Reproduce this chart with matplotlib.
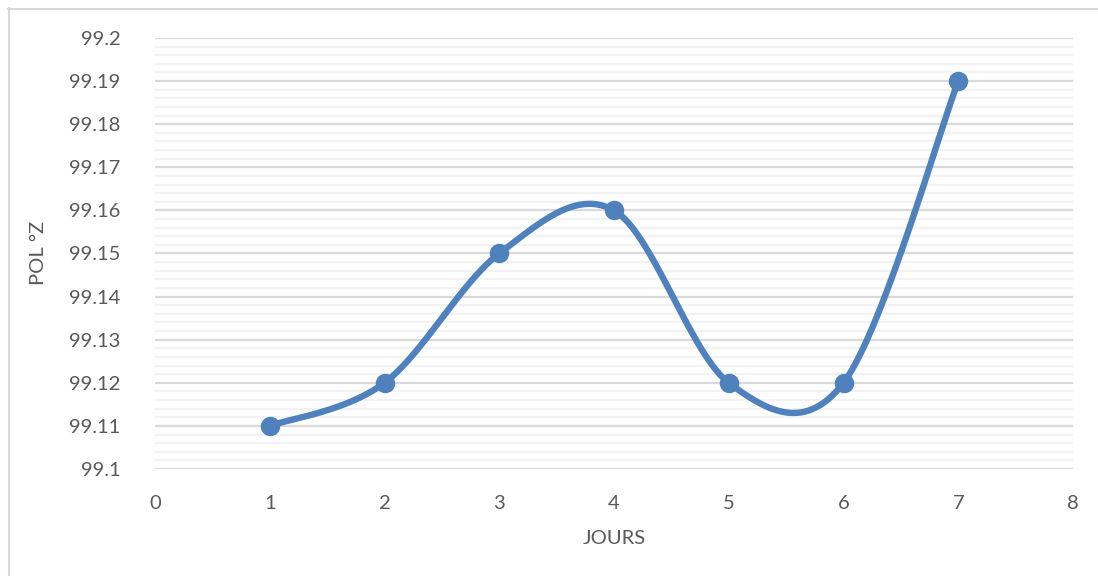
import numpy as np
import matplotlib
matplotlib.use("Agg")
import matplotlib.pyplot as plt
from matplotlib.lines import Line2D
from matplotlib.ticker import MultipleLocator

jours = [1, 2, 3, 4, 5, 6, 7]
pol_z = [99.11, 99.12, 99.15, 99.16, 99.12, 99.12, 99.19]

x_ticks = [0, 1, 2, 3, 4, 5, 6, 7, 8]
y_ticks = [99.1, 99.11, 99.12, 99.13, 99.14, 99.15, 99.16, 99.17, 99.18, 99.19, 99.2]
y_labels = ["99.1", "99.11", "99.12", "99.13", "99.14", "99.15", "99.16",
            "99.17", "99.18", "99.19", "99.2"]

LINE_COLOR = "#4F81BD"
TEXT_COLOR = "#595959"
FS = 14.5

plt.rcParams["font.family"] = ["Lato", "DejaVu Sans"]


def smooth_curve(xs, ys, n=60):
    """Cardinal (Catmull-Rom) spline through the points, drawn as cubic Beziers."""
    px = np.asarray(xs, float)
    py = np.asarray(ys, float)
    ex = np.concatenate([[px[0]], px, [px[-1]]])
    ey = np.concatenate([[py[0]], py, [py[-1]]])
    out_x, out_y = [], []
    t = np.linspace(0, 1, n)
    for i in range(len(px) - 1):
        p0 = np.array([ex[i + 1], ey[i + 1]])
        p3 = np.array([ex[i + 2], ey[i + 2]])
        c1 = p0 + (np.array([ex[i + 2], ey[i + 2]]) - np.array([ex[i], ey[i]])) / 6
        c2 = p3 - (np.array([ex[i + 3], ey[i + 3]]) - np.array([ex[i + 1], ey[i + 1]])) / 6
        b = ((1 - t) ** 3)[:, None] * p0 + (3 * (1 - t) ** 2 * t)[:, None] * c1 \
            + (3 * (1 - t) * t ** 2)[:, None] * c2 + (t ** 3)[:, None] * p3
        out_x.extend(b[:, 0])
        out_y.extend(b[:, 1])
    return np.array(out_x), np.array(out_y)


fig = plt.figure(figsize=(10.98, 5.76), dpi=100)
ax = fig.add_axes([155 / 1098, 1 - 469 / 576, (1073 - 155) / 1098, (469 - 38) / 576])

sx, sy = smooth_curve(jours, pol_z)
ax.plot(sx, sy, color=LINE_COLOR, lw=4.6, solid_capstyle="round", zorder=3)
ax.plot(jours, pol_z, "o", color=LINE_COLOR, markersize=13, zorder=4)

ax.set_xlim(0, 8)
ax.set_ylim(99.1, 99.2)
ax.set_xticks(x_ticks)
ax.set_yticks(y_ticks)
ax.set_yticklabels(y_labels)
ax.yaxis.set_minor_locator(MultipleLocator(0.002))

ax.grid(which="major", axis="y", color="#D9D9D9", lw=1.6, zorder=0)
ax.grid(which="minor", axis="y", color="#F2F2F2", lw=1.6, zorder=0)
ax.set_axisbelow(True)
for s in ax.spines.values():
    s.set_visible(False)

ax.tick_params(which="both", length=0)
ax.tick_params(axis="y", pad=25, labelsize=FS, labelcolor=TEXT_COLOR)
ax.tick_params(axis="x", pad=19, labelsize=FS, labelcolor=TEXT_COLOR)

ax.set_xlabel("JOURS", fontsize=FS, color=TEXT_COLOR)
ax.set_ylabel("POL °Z", fontsize=FS, color=TEXT_COLOR)
ax.xaxis.set_label_coords((614 - 155) / (1073 - 155), -(539 - 469) / (469 - 38))
ax.xaxis.label.set_va("center")
ax.yaxis.set_label_coords(-(155 - 38) / (1073 - 155), (469 - 253) / (469 - 38))
ax.yaxis.label.set_va("center")

# chart-area frame (top and left edges)
fig.add_artist(Line2D([8 / 1098, 1.0], [1 - 8.5 / 576, 1 - 8.5 / 576],
                      color="#D9D9D9", lw=1.5, transform=fig.transFigure))
fig.add_artist(Line2D([8.5 / 1098, 8.5 / 1098], [0.0, 1 - 8 / 576],
                      color="#D9D9D9", lw=1.5, transform=fig.transFigure))

fig.savefig("out.png", dpi=100)
